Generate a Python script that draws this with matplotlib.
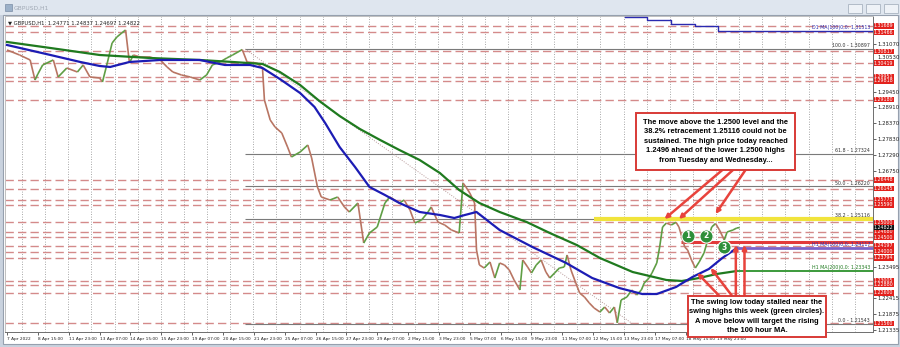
import matplotlib
matplotlib.use("Agg")
import matplotlib.pyplot as plt
from matplotlib.collections import LineCollection
from matplotlib.patches import Rectangle
import numpy as np

# GBPUSD H1 - price path (bar index, price)
bars = [0, 13, 24, 29, 32, 37, 48, 53, 62, 73, 79, 86, 96, 99, 104, 109, 114, 119, 123,
        127, 131, 138, 148, 159, 166, 172, 181, 190, 200, 207, 213, 221, 228, 234, 244,
        249, 259, 265, 267, 273, 278, 285, 291, 295, 304, 312, 316, 322, 326, 335, 343,
        350, 355, 364, 370, 376, 384, 392, 397, 402, 407, 412, 418, 423, 430, 436, 440,
        447, 454, 461, 469, 473, 476, 480, 485, 487, 490, 495, 501, 506, 511, 516, 521,
        526, 532, 535, 540, 544, 549, 554, 559, 563, 568, 573, 578, 581, 585, 590, 594,
        599, 604, 609, 615, 620, 625, 630, 633, 637, 643, 648, 653, 658, 661, 666, 669,
        674, 677, 680, 684, 689, 694, 697, 703, 706, 710, 714, 718, 723, 726, 731, 735,
        739, 744, 747, 753, 757, 760]
prices = [1.30866, 1.30696, 1.30526, 1.29845, 1.30049, 1.30356, 1.30526, 1.29947, 1.30253,
          1.30117, 1.30356, 1.29947, 1.29913, 1.29777, 1.30424, 1.31104, 1.31309, 1.31445,
          1.31547, 1.30424, 1.30696, 1.30628, 1.30628, 1.30526, 1.30288, 1.30117, 1.30015,
          1.29947, 1.29845, 1.30015, 1.30356, 1.30458, 1.30594, 1.30696, 1.30880, 1.30458,
          1.30424, 1.30253, 1.29164, 1.28483, 1.28245, 1.28041, 1.27564, 1.27224, 1.27394,
          1.27632, 1.27190, 1.26203, 1.25862, 1.25760, 1.25862, 1.25522, 1.25352, 1.25658,
          1.24296, 1.24637, 1.24841, 1.25658, 1.25862, 1.25760, 1.25658, 1.25760, 1.25420,
          1.24977, 1.25079, 1.25318, 1.25522, 1.25011, 1.24909, 1.24739, 1.24637, 1.26339,
          1.26203, 1.25998, 1.25658, 1.24058, 1.23548, 1.23445, 1.23650, 1.23105, 1.23616,
          1.23548, 1.23377, 1.23037, 1.22697, 1.23718, 1.23480, 1.23275, 1.23548, 1.23718,
          1.23309, 1.23105, 1.23275, 1.23445, 1.23480, 1.23888, 1.23377, 1.22935, 1.22594,
          1.22458, 1.22254, 1.22084, 1.21948, 1.22118, 1.21914, 1.22118, 1.21580, 1.22356,
          1.22458, 1.22697, 1.22526, 1.22697, 1.22935, 1.23105, 1.23275, 1.23616, 1.24160,
          1.24841, 1.24977, 1.24909, 1.25000, 1.24841, 1.24160, 1.24058, 1.23718, 1.23445,
          1.23650, 1.23956, 1.24296, 1.24841, 1.24960, 1.24739, 1.24400, 1.24671, 1.24739,
          1.24807, 1.24822]

# moving averages
ma100_bars = [0, 45, 76, 96, 107, 127, 159, 200, 210, 226, 252, 265, 283, 304, 319, 330,
              345, 361, 376, 392, 407, 428, 449, 464, 475, 487, 511, 545, 580, 607, 635,
              659, 674, 694, 711, 728, 742, 757]
ma100 = [1.31036, 1.30696, 1.30458, 1.30322, 1.30288, 1.30458, 1.30526, 1.30526, 1.30458,
         1.30356, 1.30356, 1.30253, 1.29879, 1.29402, 1.28926, 1.28381, 1.27564, 1.26884,
         1.26203, 1.25930, 1.25658, 1.25352, 1.25250, 1.25147, 1.25250, 1.25352, 1.24739,
         1.24160, 1.23616, 1.23105, 1.22765, 1.22560, 1.22560, 1.22799, 1.23139, 1.23411,
         1.23786, 1.24126]
ma200_bars = [0, 45, 96, 148, 200, 234, 265, 283, 304, 324, 345, 366, 387, 407, 428, 449,
              469, 490, 511, 539, 563, 591, 615, 649, 684, 700, 718, 736, 757]
ma200 = [1.31139, 1.30934, 1.30696, 1.30594, 1.30526, 1.30458, 1.30390, 1.30117, 1.29675,
         1.29130, 1.28620, 1.28177, 1.27803, 1.27462, 1.27122, 1.26679, 1.26101, 1.25658,
         1.25352, 1.25011, 1.24637, 1.24228, 1.23786, 1.23309, 1.23037, 1.23003, 1.23105,
         1.23241, 1.23343]

# daily MA(100) steps
d1_bars = [641, 664, 689, 714, 737, 899]
d1_ma = [1.31990, 1.31888, 1.31751, 1.31683, 1.31513]

# horizontal support / resistance levels (red price tags)
levels = [1.31689, 1.31466, 1.30817, 1.30419, 1.29951, 1.29818, 1.29180, 1.26448, 1.26145,
          1.25773, 1.25590, 1.25000, 1.24680, 1.24500, 1.24197, 1.24000, 1.23794,
          1.23005, 1.22880, 1.22600, 1.21560]

# fibonacci retracement
fib_names = ["100.0", "61.8", "50.0", "38.2", "0.0"]
fib_levels = [1.30897, 1.27324, 1.26220, 1.25116, 1.21543]
fib_start, fib_end = 247, 649

# price scale tick labels
ytick_vals = [1.31070, 1.30530, 1.29450, 1.28910, 1.28370, 1.27830, 1.27290, 1.26750,
              1.23495, 1.22415, 1.21875, 1.21335]

# time labels every 32 bars
time_labels = ["7 Apr 2022", "8 Apr 15:00", "11 Apr 23:00", "13 Apr 07:00", "14 Apr 15:00",
               "15 Apr 23:00", "19 Apr 07:00", "20 Apr 15:00", "21 Apr 23:00", "25 Apr 07:00",
               "26 Apr 15:00", "27 Apr 23:00", "29 Apr 07:00", "2 May 15:00", "3 May 23:00",
               "5 May 07:00", "6 May 15:00", "9 May 23:00", "11 May 07:00", "12 May 15:00",
               "13 May 23:00", "17 May 07:00", "18 May 15:00", "19 May 23:00"]

# swing highs (green circles)
circle_bars = [706, 725, 744]
circle_prices = [1.24535, 1.24535, 1.24160]

yellow_level, yellow_from = 1.25100, 609
swing_level, swing_from = 1.24331, 699
h1_ma100_val, h1_ma200_val, ma_from = 1.24117, 1.23343, 757
last_price = 1.24822

XMIN, XMAX = -2.1, 898.3
YMIN, YMAX = 1.21267, 1.32023

fig = plt.figure(figsize=(9, 3.47), dpi=100, facecolor="#c9d2de")

# window chrome
def px(x, y, w, h, **kw):
    fig.patches.append(Rectangle((x / 900, 1 - (y + h) / 347), w / 900, h / 347,
                                 transform=fig.transFigure, zorder=-5, **kw))

px(0, 0, 900, 15, facecolor="#dfe6ef", edgecolor="none")
px(3, 15, 895, 329, facecolor="white", edgecolor="#96a0ae", lw=0.8)
px(5, 4, 7, 7, facecolor="#9bb0c8", edgecolor="#7b8da5", lw=0.5)
fig.text(14 / 900, 1 - 8 / 347, "GBPUSD,H1", fontsize=4.3, color="#a0a8b4", va="center")
for bx in [848, 866, 884]:
    px(bx, 4, 14, 9, facecolor="#eef2f7", edgecolor="#a9b3c0", lw=0.6)

ax = fig.add_axes([5 / 900, 1 - 332 / 347, 868 / 900, 316 / 347])
ax.set_xlim(XMIN, XMAX)
ax.set_ylim(YMIN, YMAX)
ax.set_facecolor("white")
for s in ax.spines.values():
    s.set_color("#6e6e6e")
    s.set_linewidth(0.7)
ax.spines["left"].set_color("#c0c0c0")
ax.spines["top"].set_color("#c0c0c0")

# vertical dotted grid
ax.vlines(np.arange(15.5, XMAX, 24), YMIN, YMAX, colors="#8a8a8a", lw=0.6,
          linestyles=(0, (1, 2)), zorder=1)

# red dashed levels
for lv in levels:
    ax.axhline(lv, color="#d48a8a", lw=1.0, ls=(0, (6, 3)), zorder=1)

# fib levels
ax.hlines(fib_levels, fib_start, XMAX, colors="#7a7a7a", lw=0.8, zorder=2)
ax.plot([fib_start, fib_end], [fib_levels[0], fib_levels[-1]], color="#b89a9a",
        lw=0.7, ls=(0, (1, 1.5)), zorder=2)
for nm, lv in zip(fib_names, fib_levels):
    ax.text(XMAX - 3, lv + 0.0003, f"{nm} - {lv:.5f}", fontsize=3.4, color="#333333",
            ha="right", va="bottom", zorder=3)

# yellow and swing-high lines
ax.hlines(yellow_level, yellow_from, XMAX, colors="#f1e43c", lw=3, zorder=2)
ax.hlines(swing_level, swing_from, XMAX, colors="#e23a3a", lw=2.2, zorder=2)

# price path, coloured by direction
pts = np.column_stack([bars, prices])
segs = np.stack([pts[:-1], pts[1:]], axis=1)
cols = ["#5f9e45" if b > a else "#b87563" for a, b in zip(prices[:-1], prices[1:])]
ax.add_collection(LineCollection(segs, colors=cols, linewidths=1.2, zorder=3))

# moving averages
ax.plot(ma200_bars, ma200, color="#1f7a1f", lw=1.6, zorder=4)
ax.plot(ma100_bars, ma100, color="#1c1cb4", lw=1.6, zorder=4)
ax.step(d1_bars, d1_ma + [d1_ma[-1]], where="post", color="#2a2ab0", lw=1.0, zorder=4)
ax.text(XMAX - 3, d1_ma[-1] + 0.0002, f"D1 MA(100)0,0: {d1_ma[-1]:.5f}", fontsize=3.4,
        color="#2a2ab0", ha="right", va="bottom", zorder=4)

ax.hlines(h1_ma100_val, ma_from, XMAX, colors="#7d62c8", lw=2.0, zorder=4)
ax.text(XMAX - 3, h1_ma100_val + 0.0003, f"H1 MA(100)0,0: {h1_ma100_val:.5f}",
        fontsize=3.4, color="#3030b0", ha="right", va="bottom", zorder=4)
ax.hlines(h1_ma200_val, ma_from, XMAX, colors="#3b9a3b", lw=1.4, zorder=4)
ax.text(XMAX - 3, h1_ma200_val + 0.0003, f"H1 MA(200)0,0: {h1_ma200_val:.5f}",
        fontsize=3.4, color="#1f7a1f", ha="right", va="bottom", zorder=4)

# green circles
ax.plot(circle_bars, circle_prices, "o", ms=9.5, mfc="#2f8f3a", mec="white", mew=0.8, zorder=7)
for i, (cb, cp) in enumerate(zip(circle_bars, circle_prices), 1):
    ax.text(cb, cp, str(i), color="white", fontsize=5.5, fontweight="bold",
            ha="center", va="center", zorder=8)

# annotation boxes
red = "#d83a36"
box_font = dict(family=["Liberation Sans", "DejaVu Sans"], fontweight="bold", fontsize=5.4,
                ha="center", va="center", color="black", zorder=9, linespacing=1.5)
ax.add_patch(Rectangle((652.5, 1.26781), 164.9, 0.01941, facecolor="white", edgecolor=red,
                       lw=1.4, zorder=8))
ax.text(735, 1.27752, "The move above the 1.2500 level and the\n38.2% retracement 1.25116 could not be\n"
        "sustained. The high price today reached\n1.2496 ahead of the lower 1.2500 highs\n"
        "from Tuesday and Wednesday...", **box_font)
ax.add_patch(Rectangle((706.4, 1.21097), 143.2, 0.01395, facecolor="white", edgecolor=red,
                       lw=1.4, zorder=8, clip_on=False))
ax.text(778, 1.21795, "The swing low today stalled near the\nswing highs this week (green circles).\n"
        "A move below will target the rising\nthe 100 hour MA.", clip_on=False, **box_font)

arrows = [((742, 1.26781), (682, 1.25113)), ((753, 1.26781), (697, 1.25113)),
          ((766, 1.26781), (735, 1.25284)), ((740, 1.22458), (716, 1.23275)),
          ((753, 1.22458), (730, 1.23445)), ((756, 1.22458), (756, 1.24228)),
          ((765, 1.22458), (765, 1.24228))]
for start, end in arrows:
    ax.annotate("", xy=end, xytext=start, zorder=6,
                arrowprops=dict(arrowstyle="-|>", color="#e8433c", lw=1.8,
                                mutation_scale=6, shrinkA=0, shrinkB=0))

# price axis on the right
ax.yaxis.tick_right()
ax.set_yticks(ytick_vals)
ax.set_yticklabels([f"{v:.5f}" for v in ytick_vals])
ax.tick_params(axis="y", length=2, width=0.5, pad=1, labelsize=3.9, colors="#222222")
ax.get_yticklabels()[1].set_va("bottom")
ytr = ax.get_yaxis_transform()
for lv in levels:
    ax.text(1.001, lv, f"{lv:.5f}", transform=ytr, fontsize=3.4, color="white",
            ha="left", va="center", clip_on=False, zorder=10,
            bbox=dict(boxstyle="square,pad=0.06", fc="#e3211c", ec="none"))
ax.text(1.001, last_price, f"{last_price:.5f}", transform=ytr, fontsize=3.4, color="white",
        ha="left", va="center", clip_on=False, zorder=11,
        bbox=dict(boxstyle="square,pad=0.06", fc="#111111", ec="none"))

# time axis
ax.set_xticks([32 * i for i in range(len(time_labels))])
ax.set_xticklabels(time_labels)
ax.tick_params(axis="x", length=2, width=0.5, pad=1.5, labelsize=3.1, colors="#222222")
for lab in ax.get_xticklabels():
    lab.set_horizontalalignment("left")

ax.text(0.004, 0.985, "\u25bc GBPUSD,H1  1.24771 1.24837 1.24697 1.24822", transform=ax.transAxes,
        fontsize=3.8, va="top", ha="left", color="#222222")

fig.savefig("out.png", dpi=100)
